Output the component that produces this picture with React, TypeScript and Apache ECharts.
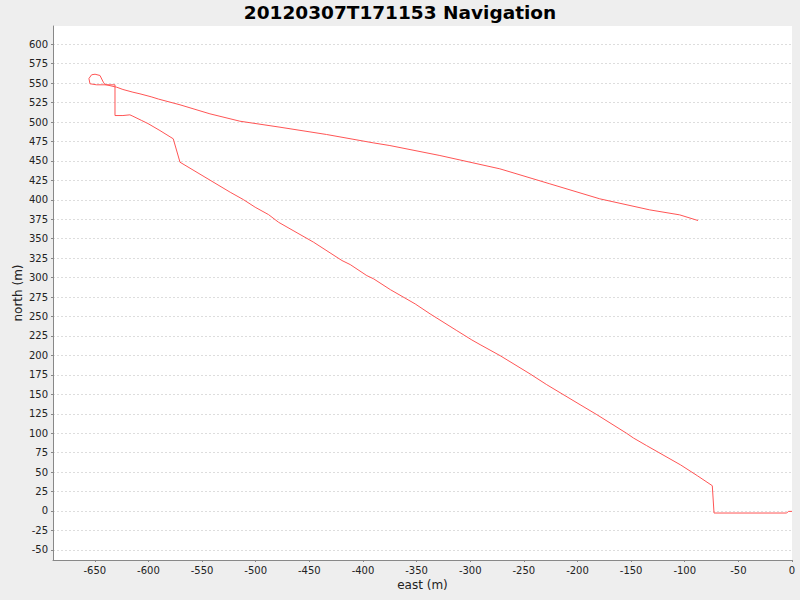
import { useEffect, useRef } from 'react'
import * as echarts from 'echarts'

// track, in metres relative to the start point
const eastValues = [
  0, -3.4, -4.9, -72.7, -74.3, -88.3, -103.8, -135.5, -147.9, -154.1,
  -182, -197.6, -228.7, -244.2, -272.1, -290.8, -298.5, -312.5, -337.4, -351.3,
  -374.4, -390, -396.4, -411.9, -419.6, -446, -478.7, -488, -500.5, -511.6,
  -523.8, -570.6, -576.9, -589.3, -600.5, -606.3, -614.5, -617.3, -623.8, -631.2,
  -631.2, -648.3, -654.5, -655.5, -653, -649.8, -645.2, -642.1, -640.5, -629.6,
  -623.8, -614.5, -607.9, -597.5, -590.5, -570.6, -542.7, -514.7, -477.4, -433.9,
  -390.5, -374.9, -328.3, -272.4, -225.8, -179.2, -132.6, -104.7, -87.6
]
const northValues = [
  -0.5, -0.5, -2.6, -2.6, 32.5, 45.4, 59.2, 84, 93.9, 99.8,
  123.9, 136.7, 162.4, 176.2, 199.7, 213.9, 219.9, 231.9, 253.4, 266.2,
  284.5, 298.4, 302.6, 316.8, 322, 345.5, 371.2, 381, 390.5, 400.4,
  409.8, 448.4, 478.5, 489.1, 498.1, 502, 507.5, 509.3, 508.4, 508.4,
  547.9, 547.9, 549.2, 556, 560.8, 561.5, 559.9, 551.3, 548.3, 544.8,
  541.9, 538.4, 536.3, 532.5, 529.5, 522.2, 510.6, 501.1, 493.4, 484,
  473.3, 469.8, 457, 439.9, 420.6, 401.3, 387.1, 380.7, 373.4
]
const eastTicks = [-650, -600, -550, -500, -450, -400, -350, -300, -250, -200, -150, -100, -50, 0]
const northTicks = [
  -50, -25, 0, 25, 50, 75, 100, 125, 150, 175, 200, 225, 250, 275,
  300, 325, 350, 375, 400, 425, 450, 475, 500, 525, 550, 575, 600
]

const FONT = 'DejaVu Sans'

const App: React.FC = () => {
  const chartContainerRef = useRef<HTMLDivElement | null>(null)

  useEffect(() => {
    if (chartContainerRef.current === null) return
    const chart = echarts.init(chartContainerRef.current, undefined, { renderer: 'svg' })
    const track = eastValues.map((e, i) => [e, northValues[i]])

    chart.setOption({
      animation: false,
      backgroundColor: '#eeeeee',
      title: {
        text: '20120307T171153 Navigation',
        left: 'center',
        top: 1,
        padding: 0,
        textStyle: { fontFamily: FONT, fontSize: 18.5, fontWeight: 'bold', color: '#000', lineHeight: 22 }
      },
      grid: {
        left: 53,
        top: 26,
        right: 8,
        bottom: 40,
        show: true,
        backgroundColor: '#ffffff',
        borderWidth: 0
      },
      xAxis: {
        type: 'value',
        min: -689,
        max: 0,
        name: 'east (m)',
        nameLocation: 'middle',
        nameGap: 19,
        nameMoveOverlap: false,
        nameTextStyle: { fontFamily: FONT, fontSize: 12, color: '#222' },
        axisLine: { onZero: false, lineStyle: { color: '#888', width: 1 } },
        axisTick: { show: true, length: 2, customValues: eastTicks, lineStyle: { color: '#888' } },
        axisLabel: { customValues: eastTicks, fontFamily: FONT, fontSize: 10, color: '#222', margin: 5 },
        splitLine: { show: false }
      },
      yAxis: {
        type: 'value',
        min: -63,
        max: 623.5,
        name: 'north (m)',
        nameLocation: 'middle',
        nameGap: 29,
        nameMoveOverlap: false,
        nameTextStyle: { fontFamily: FONT, fontSize: 12, color: '#222' },
        axisLine: { show: true, onZero: false, lineStyle: { color: '#888', width: 1 } },
        axisTick: { show: true, length: 2, customValues: northTicks, lineStyle: { color: '#888' } },
        axisLabel: { customValues: northTicks, fontFamily: FONT, fontSize: 10, color: '#222', margin: 5 },
        splitLine: { show: true, lineStyle: { color: '#dddddd', type: [2, 2], width: 1 } }
      },
      series: [
        {
          type: 'line',
          data: track,
          showSymbol: false,
          lineStyle: { color: '#ff5555', width: 1 },
          itemStyle: { color: '#ff5555' }
        }
      ]
    })

    return () => {
      chart.dispose()
    }
  }, [])

  return (
    <div
      ref={chartContainerRef}
      style={{ position: 'fixed', left: 0, top: 0, width: 800, height: 600 }}
    ></div>
  )
}

export default App
